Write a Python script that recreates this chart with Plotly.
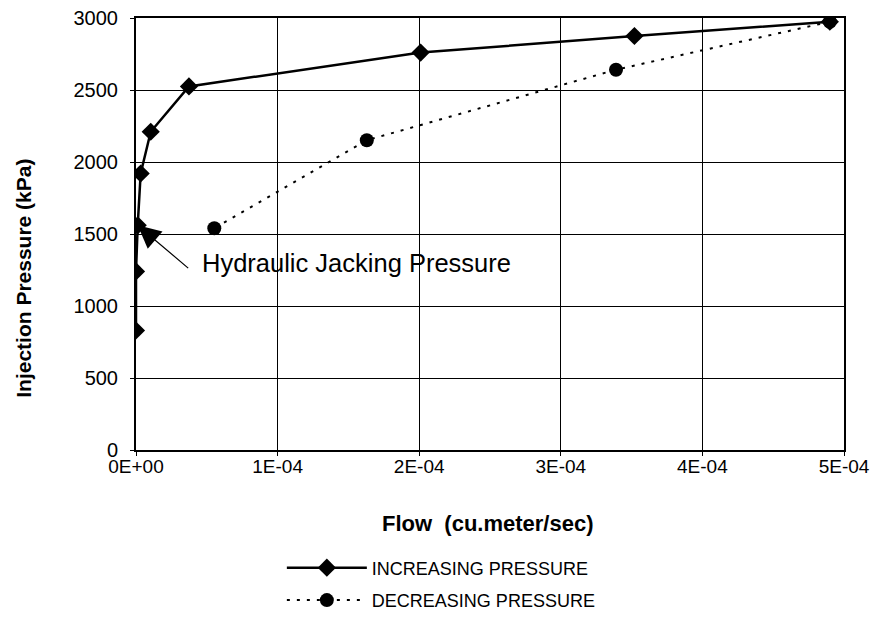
import plotly.graph_objects as go

inc_flow = [0.0, 0.0, 1.2e-6, 3.3e-6, 1.04e-5, 3.74e-5, 2.01e-4, 3.52e-4, 4.90e-4]
inc_press = [830, 1240, 1560, 1920, 2210, 2525, 2760, 2875, 2974]

dec_flow = [4.90e-4, 3.39e-4, 1.63e-4, 5.53e-5]
dec_press = [2974, 2641, 2151, 1540]

x_tick_vals = [0, 1e-4, 2e-4, 3e-4, 4e-4, 5e-4]
x_tick_text = ["0E+00", "1E-04", "2E-04", "3E-04", "4E-04", "5E-04"]
y_tick_vals = [0, 500, 1000, 1500, 2000, 2500, 3000]

x_title = "Flow&nbsp; (cu.meter/sec)"
y_title = "Injection Pressure (kPa)"
note = "Hydraulic Jacking Pressure"

FONT = "Liberation Sans, Arial, sans-serif"

fig = go.Figure()
fig.add_trace(go.Scatter(
    x=inc_flow, y=inc_press, mode="lines+markers", name="INCREASING PRESSURE",
    line=dict(color="black", width=2.5),
    marker=dict(symbol="diamond", size=14, color="black"),
    legendgroup="a",
))
fig.add_trace(go.Scatter(
    x=dec_flow, y=dec_press, mode="lines+markers", name="DECREASING PRESSURE",
    line=dict(color="black", width=2, dash="3px,7px"),
    marker=dict(symbol="circle", size=14, color="black"),
    legendgroup="b",
))

# arrow
fig.add_annotation(x=inc_flow[2], y=inc_press[2], ax=52, ay=44, text="",
                   showarrow=True, arrowhead=2, arrowsize=3.8, arrowwidth=1.2,
                   arrowcolor="black", standoff=0)
fig.add_annotation(x=4.5e-5, y=1300, text=note,
                   showarrow=False, xanchor="left", yanchor="middle",
                   font=dict(family=FONT, size=25.5, color="black"))

# axis titles
fig.add_annotation(xref="paper", yref="paper", x=0.497, y=-0.169,
                   text="<b>" + x_title + "</b>", showarrow=False,
                   xanchor="center", yanchor="middle",
                   font=dict(family=FONT, size=22, color="black"))
fig.add_annotation(xref="paper", yref="paper", x=-0.16, y=0.398,
                   text="<b>" + y_title + "</b>", showarrow=False, textangle=-90,
                   xanchor="center", yanchor="middle",
                   font=dict(family=FONT, size=21, color="black"))

axis_common = dict(showline=True, linecolor="black", linewidth=2, mirror=True,
                   showgrid=True, gridcolor="black", gridwidth=1, automargin=False,
                   ticks="outside", ticklen=4, tickcolor="black", zeroline=False,
                   ticklabeloverflow="allow")

fig.update_xaxes(range=[0, 5e-4], tickvals=x_tick_vals, ticktext=x_tick_text,
                 ticklabelstandoff=-6, tickangle=0,
                 tickfont=dict(family=FONT, size=19, color="black"), **axis_common)
fig.update_yaxes(range=[0, 3000], tickvals=y_tick_vals, ticklabelstandoff=8,
                 tickfont=dict(family=FONT, size=20, color="black"), **axis_common)

fig.update_layout(
    width=874, height=620,
    margin=dict(l=136, r=30, t=18, b=170, autoexpand=False),
    plot_bgcolor="white", paper_bgcolor="white",
    showlegend=True,
    legend=dict(orientation="v", x=0.206, xanchor="left", y=-0.39, yanchor="bottom",
                font=dict(family=FONT, size=18, color="black"),
                itemwidth=80, tracegroupgap=6, bgcolor="rgba(0,0,0,0)"),
)

fig.write_html("out.html", config={"displayModeBar": False},
               post_script="document.body.style.margin='0';document.body.style.overflow='hidden';")
